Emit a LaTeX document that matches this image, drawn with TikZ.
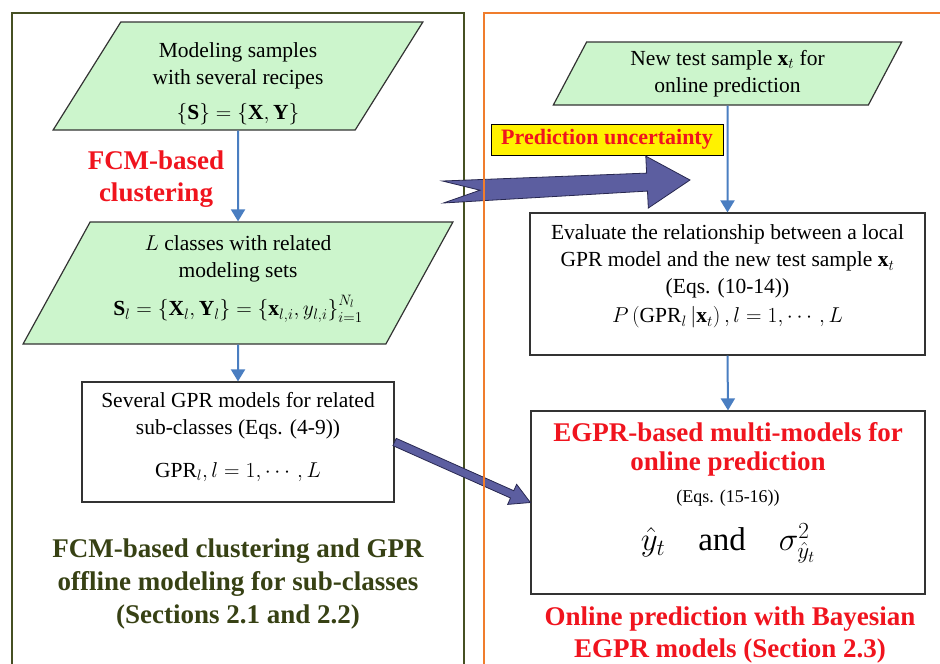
\RequirePackage{fix-cm}
\documentclass[tikz,border=0pt]{standalone}
\usepackage{fontspec}
\setmainfont{Liberation Serif}
\usepackage{amsmath}
\usetikzlibrary{arrows.meta,calc,positioning,shapes.geometric}
\definecolor{flowblue}{RGB}{74,126,193}
\definecolor{samplegreen}{RGB}{204,245,204}
\definecolor{offlineolive}{RGB}{70,80,35}
\definecolor{onlineorange}{RGB}{240,125,45}
\definecolor{arrowslate}{RGB}{92,94,160}
\definecolor{arrowedge}{RGB}{40,40,80}
\definecolor{titlered}{RGB}{240,20,30}
\definecolor{olivetext}{RGB}{55,65,20}

\tikzset{
    sample/.style={draw=black!80, fill=samplegreen, line width=1.2pt, trapezium, trapezium stretches=true, align=center},
    modelbox/.style={draw=black!80, line width=1.2pt, rectangle},
    flow/.style={flowblue, line width=2pt, -{Triangle[length=12pt,width=14pt]}},
    bigarrow/.style={fill=arrowslate, draw=arrowedge, line width=0.8pt, line join=miter},
    redtitle/.style={text=titlered, font=\bfseries\fontsize{27}{32}\selectfont, align=center}
}

\begin{document}
\begin{tikzpicture}[x=1pt, y=-1pt, font=\fontsize{21.5}{27}\selectfont]
            \useasboundingbox (0,0) rectangle (940,664);
            \clip (0,0) rectangle (940,664);
            
            % frames
            \draw[offlineolive, line width=1.5pt] (12,13) rectangle (464,700);
            \draw[onlineorange, line width=1.5pt] (484,13) rectangle (960,700);
            
            % offline modeling
            \node[sample, trapezium left angle=64, trapezium right angle=116, minimum width=370pt, minimum height=108pt] (samples) at (238,76) {\rule{0pt}{31pt}Modeling samples\\with several recipes\\[8pt]$\{\mathbf{S}\}=\{\mathbf{X},\mathbf{Y}\}$};
            \node[sample, trapezium left angle=60, trapezium right angle=120, minimum width=430pt, minimum height=122pt] (classes) at (238,283) {$L$ classes with related\\modeling sets\\[11pt]$\mathbf{S}_l=\left\{\mathbf{X}_l,\mathbf{Y}_l\right\}=\left\{\mathbf{x}_{l,i},y_{l,i}\right\}_{i=1}^{N_l}$\rule[-14pt]{0pt}{0pt}};
            \node[modelbox, minimum width=312pt, minimum height=120pt, align=center] (gpr) at (238,442) {Several GPR models for related\\sub-classes (Eqs. (4-9))\\[16pt]$\mathrm{GPR}_l, l=1,\cdots,L$\rule[-14pt]{0pt}{0pt}};
            
            \node[redtitle] (fcm) at (156,179) {FCM-based\\clustering};
            \node[text=olivetext, font=\bfseries\fontsize{27}{33}\selectfont, align=center] (offline) at (238,584) {FCM-based clustering and GPR\\offline modeling for sub-classes\\(Sections 2.1 and 2.2)};
            
            % online prediction
            \node[sample, trapezium left angle=66, trapezium right angle=114, minimum width=349pt, minimum height=63pt] (newsample) at (727.5,73.5) {New test sample $\mathbf{x}_t$ for\\online prediction};
            \node[modelbox, minimum width=395pt, minimum height=142pt] (evalbox) at (727.5,284) {};
            \node[align=center, below=9pt of evalbox.north] (evaltext) {Evaluate the relationship between a local\\GPR model and the new test sample $\mathbf{x}_t$\\(Eqs. (10-14))\\[2pt]$P\left(\mathrm{GPR}_l\,|\mathbf{x}_t\right), l=1,\cdots,L$};
            \node[modelbox, minimum width=394pt, minimum height=183pt] (egprbox) at (728,502.5) {};
            \node[align=center, below=9pt of egprbox.north] (egprtext) {\textcolor{titlered}{\bfseries\fontsize{27}{31}\selectfont EGPR-based multi-models for}\\[2pt]\textcolor{titlered}{\bfseries\fontsize{27}{31}\selectfont online prediction}\\[5pt]{\fontsize{18}{22}\selectfont (Eqs. (15-16))}\\[16pt]{\fontsize{33}{36}\selectfont $\hat{y}_t$\quad and\quad $\sigma^2_{\hat{y}_t}$}};
            
            \node[redtitle] (online) at (730,635) {Online prediction with Bayesian\\EGPR models (Section 2.3)};
            \node[draw=black, fill=yellow, line width=1pt, text=titlered, font=\bfseries\fontsize{22}{24}\selectfont, minimum width=232pt, minimum height=31pt, inner sep=2pt] (uncert) at (607,139.5) {Prediction uncertainty};
            
            \draw[flow] (samples.south) -- (classes.north);
            \draw[flow] (classes.south) -- (gpr.north);
            \draw[flow] (newsample.south) -- (evalbox.north);
            \draw[flow] (evalbox.south) -- (egprbox.north);
            
            % block arrows
            \coordinate (puTail) at (443,192);
            \coordinate (puTip) at (690,180);
            \coordinate (puBase) at ($(puTip)!43pt!(puTail)$);
            \filldraw[bigarrow] ($(puTail)!11pt!90:(puTip)$) -- ($(puBase)!9pt!90:(puTip)$) -- ($(puBase)!26pt!90:(puTip)$) -- (puTip) -- ($(puBase)!26pt!-90:(puTip)$) -- ($(puBase)!9pt!-90:(puTip)$) -- ($(puTail)!11pt!-90:(puTip)$) -- ($(puTail)!37pt!(puTip)$) -- cycle;
            
            \coordinate (mmBase) at ($(egprbox.west)!20pt!(gpr.east)$);
            \filldraw[bigarrow] ($(gpr.east)!4pt!90:(egprbox.west)$) -- ($(mmBase)!4pt!90:(egprbox.west)$) -- ($(mmBase)!11pt!90:(egprbox.west)$) -- (egprbox.west) -- ($(mmBase)!11pt!-90:(egprbox.west)$) -- ($(mmBase)!4pt!-90:(egprbox.west)$) -- ($(gpr.east)!4pt!-90:(egprbox.west)$) -- cycle;
            
            \draw[onlineorange, line width=1.5pt] (484,13) -- (484,700);
\end{tikzpicture}
\end{document}
